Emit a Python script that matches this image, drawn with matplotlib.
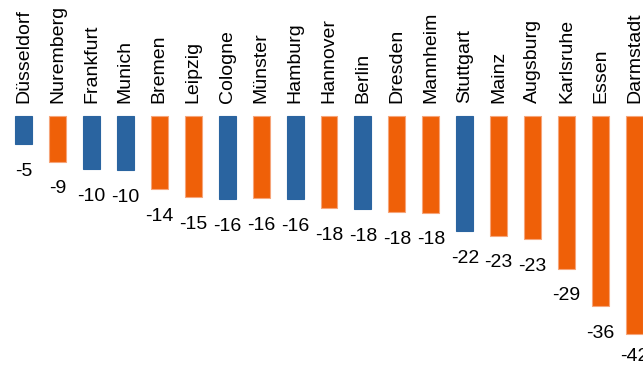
import numpy as np
import matplotlib
matplotlib.use('Agg')
import matplotlib.pyplot as plt

plt.rcParams['font.family'] = ['Liberation Sans', 'DejaVu Sans']

cities = ['Düsseldorf', 'Nuremberg', 'Frankfurt', 'Munich', 'Bremen', 'Leipzig',
          'Cologne', 'Münster', 'Hamburg', 'Hannover', 'Berlin', 'Dresden',
          'Mannheim', 'Stuttgart', 'Mainz', 'Augsburg', 'Karlsruhe', 'Essen',
          'Darmstadt']
values = [-5.3, -8.7, -10.1, -10.3, -13.9, -15.4, -15.8, -15.7, -15.8, -17.6,
          -17.7, -18.3, -18.4, -22.0, -22.8, -23.4, -29.1, -36.3, -41.6]
group = ['b', 'o', 'b', 'b', 'o', 'o', 'b', 'o', 'b', 'o', 'b', 'o', 'o', 'b',
         'o', 'o', 'o', 'o', 'o']

blue = '#2a64a0'
orange = '#ef6008'

fig = plt.figure(figsize=(6.43, 3.70), dpi=100)
ax = fig.add_axes([0, 0, 1, 1])

x = np.arange(len(cities))
cols = [blue if g == 'b' else orange for g in group]
edges = [blue if g == 'b' else '#f6a57a' for g in group]
ax.bar(x, values, width=0.5, color=cols, edgecolor=edges, linewidth=0.8)

for xi, v, name in zip(x, values, cities):
    ax.annotate(name, (xi, 0), xytext=(0, 9), textcoords='offset points',
                rotation=90, ha='center', va='bottom', fontsize=14)
    # value under each bar; the last one sits a bit closer (as in the source)
    off = -10 if xi == len(cities) - 1 else -13.5
    ax.annotate('%d' % round(v), (xi, v), xytext=(0, off),
                textcoords='offset points', ha='center', va='top',
                fontsize=14)

ax.set_xlim(-0.692, 18.25)
ax.set_ylim(-48.4, 22.1)
ax.axis('off')

fig.savefig('out.png', dpi=100)
